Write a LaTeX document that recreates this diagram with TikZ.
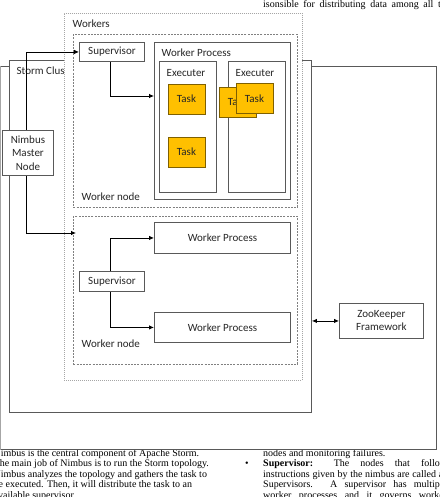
\documentclass[tikz,border=0pt]{standalone}
\usepackage{fontspec}
\setmainfont{Carlito}
\newfontfamily\tms{Liberation Serif}
\usetikzlibrary{arrows.meta}
\definecolor{boxgray}{HTML}{595959}
\definecolor{lightframe}{HTML}{A6A6A6}
\definecolor{taskfill}{HTML}{FFC000}
\definecolor{taskline}{HTML}{7F6000}
\definecolor{txt}{HTML}{262626}
\tikzset{
  box/.style={draw=boxgray, fill=white, line width=0.9pt, inner sep=0pt, anchor=north west},
  frameA/.style={draw=lightframe, fill=white, line width=0.8pt, dash pattern=on 1pt off 1pt, inner sep=0pt, anchor=north west},
  frameB/.style={draw=gray, line width=0.7pt, dash pattern=on 2pt off 1.2pt, inner sep=0pt, anchor=north west},
  lbl/.style={text=txt, inner sep=0pt, font=\fontsize{11}{13}\selectfont},
  task/.style={draw=taskline, fill=taskfill, line width=0.8pt, minimum width=37pt, minimum height=30pt, inner sep=0pt, text=txt, font=\fontsize{11}{13}\selectfont},
  arr/.style={draw=black, line width=0.8pt, -{Latex[length=5pt,width=4.5pt]}},
  dbl/.style={draw=black, line width=0.9pt, {Latex[length=5pt,width=4.5pt]}-{Latex[length=5pt,width=4.5pt]}},
  bg/.style={inner sep=0pt, anchor=base west, font=\tms\fontsize{10}{10.7}\selectfont}
}
\begin{document}
\begin{tikzpicture}[x=1pt,y=-1pt]
\useasboundingbox (0,0) rectangle (439,497);
\clip (0,0) rectangle (439,497);
% background page text
\node[bg] (toptext) at (263,7.5) {\makebox[187pt][s]{isonsible for distributing data among all the}};
\node[bg] (l1) at (-6.5,456) {Nimbus is the central component of Apache Storm.};
\node[bg] (l2) at (-6.5,466.5) {The main job of Nimbus is to run the Storm topology.};
\node[bg] (l3) at (-6.5,477) {Nimbus analyzes the topology and gathers the task to};
\node[bg] (l4) at (-6.5,487.5) {be executed. Then, it will distribute the task to an};
\node[bg] (l5) at (-6.5,498) {available supervisor.};
\node[bg] (r1) at (263,456) {nodes and monitoring failures.};
\node[bg] (bul) at (245,466.5) {\textbullet};
\node[bg] (r2) at (263,466.5) {\makebox[184pt][s]{\textbf{Supervisor:} The nodes that follow}};
\node[bg] (r3) at (263,477) {\makebox[184pt][s]{instructions given by the nimbus are called as}};
\node[bg] (r4) at (263,487.5) {\makebox[184pt][s]{Supervisors. A supervisor has multiple}};
\node[bg] (r5) at (263,498) {\makebox[184pt][s]{worker processes and it governs worker}};
% big background rectangle
\node[fill=white, inner sep=0pt, anchor=north west, minimum width=436.5pt, minimum height=383.5pt] (page) at (0,66) {};
\draw[boxgray, line width=0.9pt] (page.north west) -- (page.north east) -- (page.south east) -- (page.south west);
\draw[lightframe, line width=0.9pt] ([xshift=0.8pt]page.north west) -- ([xshift=0.8pt]page.south west);
% storm cluster
\node[box, minimum width=302pt, minimum height=352pt] (storm) at (9,60) {};
\node[lbl, anchor=west] (stormlbl) at (16.5,71) {Storm Cluster};
% nimbus
\node[box, minimum width=51pt, minimum height=45pt, align=center, font=\fontsize{11}{13.5}\selectfont, text=txt] (nimbus) at (2,130) {Nimbus\\Master\\Node};
% workers frame
\node[frameA, minimum width=238pt, minimum height=367pt] (workers) at (64,13) {};
\node[lbl, anchor=west] (workerslbl) at (72.5,24) {Workers};
\node[frameB, minimum width=224pt, minimum height=173pt] (wn1) at (73,34) {};
\node[frameB, minimum width=224pt, minimum height=148pt] (wn2) at (73,216) {};
\node[lbl, anchor=west] (wn1lbl) at (81.5,197) {Worker node};
\node[lbl, anchor=west] (wn2lbl) at (81.5,344) {Worker node};
% worker node 1
\node[box, minimum width=65pt, minimum height=19pt] (sup1) at (79,42) {};
\node[lbl] at (sup1.center) {Supervisor};
\node[box, minimum width=136pt, minimum height=157pt] (wp1) at (154,42) {};
\node[lbl, anchor=west] (wp1lbl) at (161.5,53) {Worker Process};
\node[box, minimum width=57pt, minimum height=131pt] (ex1) at (159,61) {};
\node[lbl, anchor=west] (ex1lbl) at (166.5,73) {Executer};
\node[box, minimum width=57pt, minimum height=131pt] (ex2) at (228,61) {};
\node[lbl, anchor=west] (ex2lbl) at (235.5,73) {Executer};
\node[task] (t1) at (186.5,99) {Task};
\node[task] (t2) at (186.5,152) {Task};
\node[task] (t3) at (237.5,102) {Task};
\node[task] (t4) at (254.5,98.5) {Task};
% worker node 2
\node[box, minimum width=65pt, minimum height=20pt] (sup2) at (79,271) {};
\node[lbl] at (sup2.center) {Supervisor};
\node[box, minimum width=136pt, minimum height=31pt] (wp2a) at (154,222) {};
\node[lbl] at (wp2a.center) {Worker Process};
\node[box, minimum width=136pt, minimum height=30pt] (wp2b) at (154,312) {};
\node[lbl] at (wp2b.center) {Worker Process};
% zookeeper
\node[box, minimum width=84pt, minimum height=35pt, align=center, font=\fontsize{11}{13}\selectfont, text=txt] (zk) at (339,303) {ZooKeeper\\Framework};
% connectors
\draw[arr] ([xshift=-2pt]nimbus.north) |- (sup1.west);
\draw[arr] ([xshift=-2pt]nimbus.south) |- ([xshift=3pt,yshift=-17pt]wn2.north west);
\draw[arr] ([xshift=-1.5pt]sup1.south) |- ([yshift=-54pt]wp1.north west);
\draw[arr] ([xshift=-1.5pt]sup2.north) |- (wp2a.west);
\draw[arr] ([xshift=-1.5pt]sup2.south) |- (wp2b.west);
\draw[dbl] (storm.east |- zk.west) -- (zk.west);
\end{tikzpicture}
\end{document}
